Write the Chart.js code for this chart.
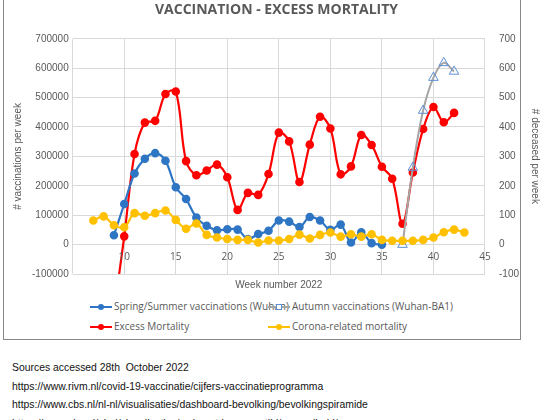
<!DOCTYPE html>
<html><head><meta charset="utf-8">
<script src="https://cdn.jsdelivr.net/npm/chart.js@4"></script>
<style>
body{margin:0;background:#fff;font-family:"Open Sans","Liberation Sans",sans-serif;overflow:hidden;}
#box{position:absolute;left:3px;top:-2px;width:518px;height:342px;border:1px solid #888;box-sizing:border-box;}
#wrap{position:absolute;left:0;top:0;width:545px;height:292px;}
#leg{position:absolute;left:0;top:300px;width:514px;font-size:10px;color:#595959;}
.li{position:absolute;white-space:nowrap;}
.sw{display:inline-block;width:22px;height:2px;vertical-align:middle;position:relative;margin-right:2px;}
.sw i{position:absolute;left:8px;top:-2px;width:6px;height:6px;border-radius:50%;}
#src{position:absolute;left:12px;top:359px;font-size:10.4px;line-height:18.5px;color:#111;font-family:"Liberation Sans",sans-serif;}
</style></head><body>
<div id="box"><div id="wrap"><canvas id="c"></canvas></div>
<div id="leg">
 <div class="li" style="left:86px;top:0"><span class="sw" style="background:#2e75c4"><i style="background:#2e75c4"></i></span>Spring/Summer vaccinations (Wuhan)</div>
 <div class="li" style="left:264px;top:0"><span class="sw" style="background:#a5a5a5"><i style="background:#fff;border:1px solid #5b8fd6;width:4px;height:4px;border-radius:0"></i></span>Autumn vaccinations (Wuhan-BA1)</div>
 <div class="li" style="left:86px;top:20px"><span class="sw" style="background:#ff0000"><i style="background:#ff0000"></i></span>Excess Mortality</div>
 <div class="li" style="left:264px;top:20px"><span class="sw" style="background:#ffc000"><i style="background:#ffc000"></i></span>Corona-related mortality</div>
</div></div>
<div id="src">Sources accessed 28th&nbsp; October 2022<br>https://www.rivm.nl/covid-19-vaccinatie/cijfers-vaccinatieprogramma<br>https://www.cbs.nl/nl-nl/visualisaties/dashboard-bevolking/bevolkingspiramide<br>https://www.cbs.nl/nl-nl/visualisaties/welvaart-in-coronatijd/gezondheid/</div>
<script>
// weeks + values
var springWeeks=[9,10,11,12,13,14,15,16,17,18,19,20,21,22,23,24,25,26,27,28,29,30,31,32,33,34,35];
var springVacc=[32000,138000,242000,292000,311000,285000,195000,155000,92000,64000,49000,52000,51000,19000,36000,47000,82000,78000,60000,94000,82000,50000,68000,7000,42000,5000,0];
var autumnWeeks=[37,38,39,40,41,42];
var autumnVacc=[0,262000,456000,568000,618000,589000];
var excessWeeks=[9,10,11,12,13,14,15,16,17,18,19,20,21,22,23,24,25,26,27,28,29,30,31,32,33,34,35,36,37,38,39,40,41,42];
var excessDeaths=[-230,28,308,415,421,512,521,284,236,252,272,229,118,176,169,240,381,351,213,340,435,395,239,266,373,339,265,224,71,245,393,468,416,448];
var coronaWeeks=[7,8,9,10,11,12,13,14,15,16,17,18,19,20,21,22,23,24,25,26,27,28,29,30,31,32,33,34,35,36,37,38,39,40,41,42,43];
var coronaDeaths=[82,96,66,59,107,98,107,116,84,54,72,33,24,19,16,16,7,14,14,19,34,21,33,41,27,35,27,35,16,13,13,13,16,24,42,51,41];
var weekTicks=[10,15,20,25,30,35,40,45];
var leftTicks=[-100000,0,100000,200000,300000,400000,500000,600000,700000];
var rightTicks=[-100,0,100,200,300,400,500,600,700];

function pts(xs,ys){return xs.map(function(x,i){return {x:x,y:ys[i]};});}
var grey='#595959';

/* week labels sit just under the zero line, like the Excel axis */
var weekLabels={id:'weekLabels',afterDraw:function(ch){
  var c=ch.ctx,xs=ch.scales.x,y0=ch.scales.y.getPixelForValue(0);
  c.save();c.fillStyle=grey;c.font='10px "Open Sans"';c.textAlign='center';c.textBaseline='top';
  weekTicks.forEach(function(w){c.fillText(String(w),xs.getPixelForValue(w),y0+8);});
  c.restore();
}};

new Chart(document.getElementById('c'),{
  type:'line',
  data:{datasets:[
    {label:'Corona-related mortality',data:pts(coronaWeeks,coronaDeaths),yAxisID:'y2',borderColor:'#ffc000',backgroundColor:'#ffc000',pointRadius:3.2,borderWidth:2.2,tension:0.35},
    {label:'Spring/Summer vaccinations (Wuhan)',data:pts(springWeeks,springVacc),yAxisID:'y',borderColor:'#2e75c4',backgroundColor:'#2e75c4',pointRadius:3.2,borderWidth:2.2,tension:0.35},
    {label:'Autumn vaccinations (Wuhan-BA1)',data:pts(autumnWeeks,autumnVacc),yAxisID:'y',borderColor:'#a5a5a5',backgroundColor:'rgba(255,255,255,0)',pointBorderColor:'#5b8fd6',pointStyle:'triangle',pointRadius:5.5,pointBorderWidth:1,borderWidth:2,tension:0.35},
    {label:'Excess Mortality',data:pts(excessWeeks,excessDeaths),yAxisID:'y2',borderColor:'#ff0000',backgroundColor:'#ff0000',pointRadius:3.2,borderWidth:2.2,tension:0.35}
  ]},
  options:{
    responsive:true,maintainAspectRatio:false,animation:false,
    layout:{padding:{left:4,right:4,top:0,bottom:0}},
    plugins:{
      legend:{display:false},tooltip:{enabled:false},
      title:{display:true,text:'VACCINATION - EXCESS MORTALITY',color:grey,font:{size:14,weight:'bold',family:'Open Sans'},padding:{top:3,bottom:20}}
    },
    scales:{
      x:{type:'linear',min:5,max:45,ticks:{display:false,stepSize:5},
         grid:{color:'#d9d9d9',drawTicks:false},border:{display:false},
         title:{display:true,text:'Week number 2022',color:grey,font:{size:10},padding:{top:5,bottom:0}}},
      y:{position:'left',min:-100000,max:700000,afterBuildTicks:function(a){a.ticks=leftTicks.map(function(v){return {value:v};});},
         ticks:{color:grey,font:{size:10},padding:4,callback:function(v){return String(v);}},grid:{color:'#d9d9d9',drawTicks:false},border:{display:false},
         title:{display:true,text:'# vaccinations per week',color:grey,font:{size:10}}},
      y2:{position:'right',min:-100,max:700,afterBuildTicks:function(a){a.ticks=rightTicks.map(function(v){return {value:v};});},
         ticks:{color:grey,font:{size:10},padding:6,callback:function(v){return String(v);}},grid:{display:false},border:{display:false},
         title:{display:true,text:'# deceased per week',color:grey,font:{size:10}}}
    }
  },
  plugins:[weekLabels]
});
</script>
</body></html>
